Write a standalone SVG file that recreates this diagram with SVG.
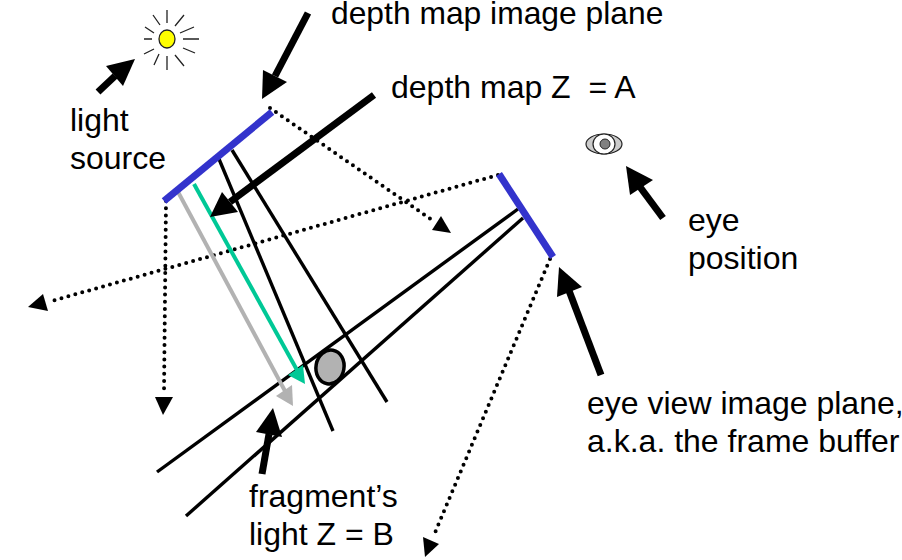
<svg xmlns="http://www.w3.org/2000/svg" width="902" height="560" viewBox="0 0 902 560">
<style>
text{font-family:"Liberation Sans",Arial,sans-serif;font-size:32px;fill:#000}
.ray{stroke:#222;stroke-width:1.3;fill:none}
.plane{stroke:#3333cc;stroke-width:7;fill:none}
.thin{stroke:#000;stroke-width:3.4;fill:none}
.thick{stroke:#000;stroke-width:7;fill:none}
.dot{stroke:#000;stroke-width:4;stroke-linecap:round;stroke-dasharray:0 7.2;fill:none}
</style>
<rect width="902" height="560" fill="#fff"/>
<g id="connectors">
<path class="dot" d="M270 108L432 220"/><polygon points="451,233 432,230 441,216"/>
<path class="dot" d="M498 175L48 302"/><polygon points="28,307 43,294 48,311"/>
<path class="dot" d="M166 201L164 392"/><polygon points="163,415 155,397 173,397"/>
<path class="dot" d="M550 259L434 535"/><polygon points="425,557 423,537 439,544"/>
<path class="thin" d="M219 159L333 431"/>
<path class="thin" d="M232 150L387 402"/>
<path class="thin" d="M518 209L157 472"/>
<path class="thin" d="M523 218L186 516"/>
<path d="M194 184L297 370" stroke="#00c896" stroke-width="4" fill="none"/><polygon points="305,384 288,375 303,365" fill="#00c896"/>
<path d="M177 190L285 391" stroke="#b2b2b2" stroke-width="4" fill="none"/><polygon points="293,406 276,396 292,385" fill="#b2b2b2"/>
<path class="thick" d="M98 92L115 76"/><polygon points="135,59 106,66 123,86"/>
<path class="thick" d="M308 13L275 76"/><polygon points="262,99 263,70 287,82"/>
<path class="thick" d="M374 95L230 202"/><polygon points="210,217 222,192 238,212"/>
<path class="thick" d="M262 474L269 434"/><polygon points="273,408 256,432 282,437"/>
<path class="thick" d="M663 218L640 187"/><polygon points="626,166 630,195 653,180"/>
<path class="thick" d="M601 375L568 288"/><polygon points="559,267 557,297 582,287"/>
</g>
<g id="light-source">
<ellipse cx="167" cy="39" rx="8" ry="9" fill="#ff0" stroke="#222" stroke-width="1.3"/>
<path class="ray" d="M167 10V23M167 56V70M153 15L160 25M175 26L184 15M145 27L154 33M180 33L194 27M144 39H152M183 39H199M144 54L154 49M183 48L195 53M154 65L159 54M175 55L184 66"/>
</g>
<g id="depth-plane"><path class="plane" d="M164 201L272 112"/></g>
<g id="eye-plane"><path class="plane" d="M499 174L553 257"/></g>
<g id="fragment"><ellipse cx="330" cy="367" rx="14" ry="17" transform="rotate(10 330 367)" fill="#b2b2b2" stroke="#000" stroke-width="3.5"/></g>
<g id="eye">
<ellipse cx="604" cy="144" rx="18" ry="10" fill="#ccc" stroke="#222" stroke-width="1.2"/>
<ellipse cx="604" cy="144" rx="11" ry="10" fill="#fff" stroke="#222" stroke-width="1.2"/>
<circle cx="605" cy="144" r="5" fill="#808080" stroke="#222" stroke-width="1"/>
</g>
<g id="labels">
<text x="331" y="24" style="font-size:31.8px">depth map image plane</text>
<text x="391" y="98" xml:space="preserve" style="white-space:pre">depth map Z  = A</text>
<text x="70" y="131">light</text>
<text x="70" y="169">source</text>
<text x="688" y="231">eye</text>
<text x="688" y="269">position</text>
<text x="587" y="414">eye view image plane,</text>
<text x="587" y="452">a.k.a. the frame buffer</text>
<text x="249" y="507">fragment’s</text>
<text x="249" y="545">light Z = B</text>
</g>
</svg>
